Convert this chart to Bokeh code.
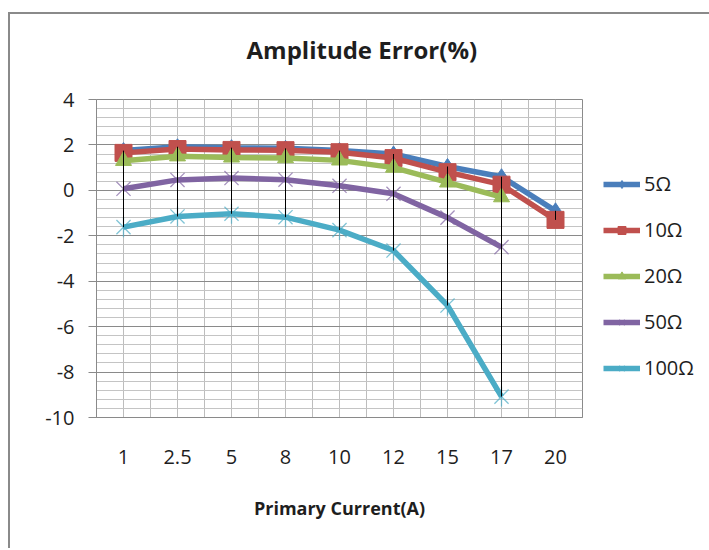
import numpy as np
from bokeh.plotting import figure
from bokeh.models import FactorRange, Range1d, FixedTicker, Legend, LegendItem, ColumnDataSource, Title
from bokeh.embed import file_html
from bokeh.resources import INLINE

# ---- data ----
categories = ["1", "2.5", "5", "8", "10", "12", "15", "17", "20"]
err_5ohm = [1.75, 1.92, 1.88, 1.85, 1.75, 1.60, 1.05, 0.60, -0.90]
err_10ohm = [1.65, 1.82, 1.78, 1.77, 1.68, 1.42, 0.80, 0.25, -1.30]
err_20ohm = [1.30, 1.50, 1.45, 1.42, 1.32, 1.00, 0.35, -0.30, None]
err_50ohm = [0.07, 0.46, 0.54, 0.47, 0.20, -0.15, -1.20, -2.50, None]
err_100ohm = [-1.62, -1.15, -1.03, -1.18, -1.75, -2.65, -5.07, -9.08, None]
series_names = ["5Ω", "10Ω", "20Ω", "50Ω", "100Ω"]
y_ticks = [-10, -8, -6, -4, -2, 0, 2, 4]

FONT = "Open Sans"
TXT = "#1e1e1e"
colors = ["#4a7ebb", "#c0504d", "#9bbb59", "#8064a2", "#4bacc6"]
all_series = [err_5ohm, err_10ohm, err_20ohm, err_50ohm, err_100ohm]

p = figure(x_range=FactorRange(factors=categories, range_padding=0),
           y_range=Range1d(-10, 4),
           frame_width=486, frame_height=318,
           min_border_left=86, min_border_right=123,
           min_border_top=85, min_border_bottom=131,
           output_backend="svg", toolbar_location=None,
           background_fill_color="white", border_fill_color="white")
p.styles = {"border-top": "2px solid #8a8a8a", "border-left": "2px solid #8a8a8a",
            "border-right": "2px solid #8a8a8a", "margin-top": "12px", "margin-left": "8px"}

# title (with an empty spacer between it and the plot area)
p.add_layout(Title(text=" ", text_font_size="1px", standoff=31), "above")
p.title.text = "Amplitude Error(%)"
p.title.text_font = FONT
p.title.text_font_style = "bold"
p.title.text_font_size = "24px"
p.title.text_color = TXT
p.title.align = "left"
p.title.offset = 150
p.title.standoff = 0

# grids
half_steps = [0.5 * k for k in range(1, 2 * len(categories))]
p.xgrid.ticker = FixedTicker(ticks=half_steps)
p.xgrid.grid_line_color = "#bdbdbd"
p.xgrid.grid_line_width = 1
minor_y = [round(y_ticks[0] + 0.4 * k, 2) for k in range(int((y_ticks[-1] - y_ticks[0]) / 0.4) + 1)]
p.ygrid.ticker = FixedTicker(ticks=y_ticks, minor_ticks=minor_y)
p.ygrid.grid_line_color = "#8a8a8a"
p.ygrid.minor_grid_line_color = "#c4c4c4"
p.outline_line_color = "#8a8a8a"

# axes
p.yaxis.ticker = FixedTicker(ticks=y_ticks)
p.yaxis.major_label_overrides = {t: str(t) for t in y_ticks}
p.yaxis.axis_line_color = "#8a8a8a"
p.yaxis.major_tick_line_color = "#8a8a8a"
p.yaxis.major_tick_out = 8
p.yaxis.major_tick_in = 0
p.yaxis.minor_tick_line_color = None
p.yaxis.major_label_standoff = 14
p.yaxis.major_label_text_font = FONT
p.yaxis.major_label_text_font_size = "20px"
p.yaxis.major_label_text_color = TXT

p.xaxis.axis_line_color = "#8a8a8a"
p.xaxis.major_tick_line_color = None
p.xaxis.minor_tick_line_color = None
p.xaxis.major_tick_out = 0
p.xaxis.major_label_standoff = 32
p.xaxis.major_label_text_font = FONT
p.xaxis.major_label_text_font_size = "20px"
p.xaxis.major_label_text_color = TXT
p.xaxis.axis_label = "Primary Current(A)"
p.xaxis.axis_label_text_font = FONT
p.xaxis.axis_label_text_font_style = "bold"
p.xaxis.axis_label_text_font_size = "18px"
p.xaxis.axis_label_text_color = TXT
p.xaxis.axis_label_standoff = 29

items = []
marker_specs = [
    [dict(marker="diamond", size=16)],
    [dict(marker="square", size=17)],
    [dict(marker="triangle", size=16)],
    [dict(marker="x", size=20)],
    [dict(marker="x", size=20), dict(marker="dash", size=20, angle=np.pi / 2)],
]
for name, vals, color, specs in zip(series_names, all_series, colors, marker_specs):
    yv = [np.nan if v is None else v for v in vals]
    src = ColumnDataSource(dict(x=categories, y=yv))
    rl = p.line(x="x", y="y", source=src, line_color=color, line_width=5.5)
    rends = [rl]
    for s in specs:
        if s["marker"] in ("x", "dash"):
            rm = p.scatter(x="x", y="y", source=src, marker=s["marker"], size=s["size"],
                           angle=s.get("angle", 0), line_color=color, line_alpha=0.7,
                           line_width=1.3)
        else:
            rm = p.scatter(x="x", y="y", source=src, marker=s["marker"], size=s["size"],
                           fill_color=color, line_color=color)
        rends.append(rm)
    items.append(LegendItem(label=name, renderers=rends))

# high-low lines
arr = np.array([[np.nan if v is None else v for v in s] for s in all_series], dtype=float)
hi = np.nanmax(arr, axis=0)
lo = np.nanmin(arr, axis=0)
p.segment(x0=categories, y0=list(hi), x1=categories, y1=list(lo), line_color="black", line_width=1)

legend = Legend(items=items, location=(21, 36), orientation="vertical",
                glyph_width=37, glyph_height=20, label_height=20, spacing=19,
                padding=0, margin=0, border_line_color=None, background_fill_alpha=0,
                label_standoff=4, label_text_font=FONT, label_text_font_size="20px",
                label_text_color=TXT)
p.add_layout(legend, "right")

open("out.html", "w").write(file_html(p, INLINE))
